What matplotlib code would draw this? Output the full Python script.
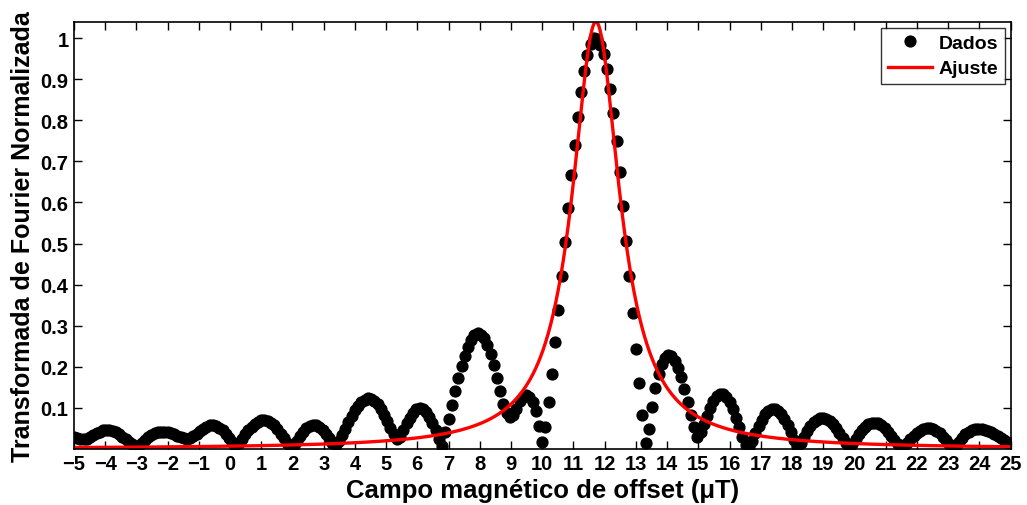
import numpy as np
import matplotlib
matplotlib.use("Agg")
import matplotlib.pyplot as plt

plt.rcParams["font.family"] = ["Liberation Sans", "DejaVu Sans"]
plt.rcParams["font.weight"] = "bold"

# offset field sweep: 291 samples from -5 to 25 uT
campo = np.linspace(-5, 25, 291)

# normalised Fourier amplitude at each field value
dados = np.array([
    0.030, 0.026, 0.024, 0.023, 0.025, 0.028, 0.033, 0.038, 0.042, 0.045,
    0.047, 0.046, 0.044, 0.040, 0.036, 0.030, 0.024, 0.017, 0.011, 0.006,
    0.008, 0.015, 0.022, 0.029, 0.034, 0.038, 0.041, 0.042, 0.042,
    0.041, 0.039, 0.036, 0.032, 0.028, 0.026, 0.025, 0.027, 0.031, 0.037,
    0.043, 0.049, 0.054, 0.057, 0.057, 0.055, 0.051, 0.045, 0.037, 0.027,
    0.016, 0.008, 0.013, 0.024, 0.035, 0.045, 0.054, 0.061, 0.066,
    0.069, 0.070, 0.068, 0.064, 0.057, 0.048, 0.037, 0.026, 0.015, 0.006,
    0.008, 0.019, 0.031, 0.042, 0.050, 0.056, 0.058, 0.057, 0.053, 0.046,
    0.037, 0.026, 0.015, 0.010, 0.018, 0.033, 0.049, 0.065, 0.080,
    0.094, 0.105, 0.114, 0.120, 0.123, 0.122, 0.117, 0.109, 0.097, 0.083,
    0.067, 0.051, 0.035, 0.023, 0.030, 0.046, 0.062, 0.076, 0.088, 0.096,
    0.099, 0.097, 0.090, 0.078, 0.063, 0.045, 0.025, 0.008, 0.041,
    0.073, 0.106, 0.140, 0.172, 0.202, 0.226, 0.248, 0.265, 0.276, 0.281,
    0.278, 0.270, 0.254, 0.230, 0.203, 0.172, 0.141, 0.110, 0.088, 0.078,
    0.082, 0.098, 0.116, 0.127, 0.131, 0.127, 0.115, 0.092, 0.055,
    0.016, 0.053, 0.114, 0.183, 0.260, 0.337, 0.420, 0.504, 0.587, 0.667,
    0.741, 0.809, 0.868, 0.919, 0.958, 0.985, 1.000, 0.997, 0.984, 0.962,
    0.925, 0.876, 0.819, 0.750, 0.673, 0.591, 0.506, 0.420, 0.332,
    0.244, 0.161, 0.083, 0.015, 0.049, 0.102, 0.148, 0.183, 0.207, 0.222,
    0.229, 0.225, 0.214, 0.198, 0.175, 0.146, 0.115, 0.082, 0.052, 0.030,
    0.040, 0.060, 0.080, 0.100, 0.117, 0.129, 0.134, 0.133, 0.126,
    0.113, 0.096, 0.075, 0.052, 0.029, 0.010, 0.004, 0.020, 0.038, 0.055,
    0.070, 0.084, 0.093, 0.098, 0.097, 0.093, 0.085, 0.073, 0.058, 0.041,
    0.022, 0.006, 0.014, 0.030, 0.044, 0.056, 0.065, 0.071, 0.074,
    0.075, 0.073, 0.068, 0.061, 0.051, 0.039, 0.026, 0.013, 0.004, 0.011,
    0.024, 0.036, 0.046, 0.054, 0.060, 0.063, 0.064, 0.062, 0.058, 0.051,
    0.042, 0.032, 0.021, 0.011, 0.005, 0.006, 0.015, 0.024, 0.032,
    0.039, 0.044, 0.048, 0.050, 0.050, 0.048, 0.044, 0.038, 0.030, 0.021,
    0.012, 0.006, 0.008, 0.017, 0.027, 0.035, 0.042, 0.046, 0.049, 0.049,
    0.049, 0.047, 0.044, 0.040, 0.036, 0.031, 0.026, 0.021, 0.016,
    0.013,
])

# Lorentzian fit: amplitude, centre (uT), half width (uT)
fit_amp, fit_centro, fit_largura = 1.04, 11.72, 0.93
campo_fit = np.linspace(-5, 25, 1500)
ajuste = fit_amp / (1 + ((campo_fit - fit_centro) / fit_largura) ** 2)

xticks = np.arange(-5, 26, 1)
yticks = np.round(np.arange(0.1, 1.01, 0.1), 1)

fig = plt.figure(figsize=(10.27, 5.06), dpi=100)
ax = fig.add_axes([0.072, 0.111, 0.912, 0.844])
ax.plot(campo, dados, "o", color="black", ms=7.8, mec="black", label="Dados")
ax.plot(campo_fit, ajuste, color="red", lw=2.4, label="Ajuste")

ax.set_xlim(-5, 25)
ax.set_ylim(0, 1.04)
ax.set_xticks(xticks)
ax.set_yticks(yticks)
ax.set_xticklabels([f"{t:d}".replace("-", "\u2212") for t in xticks])
ax.set_yticklabels([f"{t:g}" for t in yticks])
ax.tick_params(direction="in", length=6, width=1.0, top=True, right=True,
               labelsize=14.5, pad=4)
for s in ax.spines.values():
    s.set_linewidth(1.2)

ax.set_xlabel("Campo magnético de offset (\u03bcT)", fontsize=18.5,
              fontweight="bold", labelpad=3)
ax.set_ylabel("Transformada de Fourier Normalizada", fontsize=18,
              fontweight="bold", labelpad=4)

leg = ax.legend(loc="upper right", numpoints=1, fontsize=14, frameon=True,
                fancybox=False, edgecolor="black", borderaxespad=0.3,
                handlelength=2.3, handletextpad=0.3, borderpad=0.35,
                labelspacing=0.4)
leg.get_frame().set_linewidth(1.0)

fig.savefig("out.png", dpi=100, facecolor="white")
